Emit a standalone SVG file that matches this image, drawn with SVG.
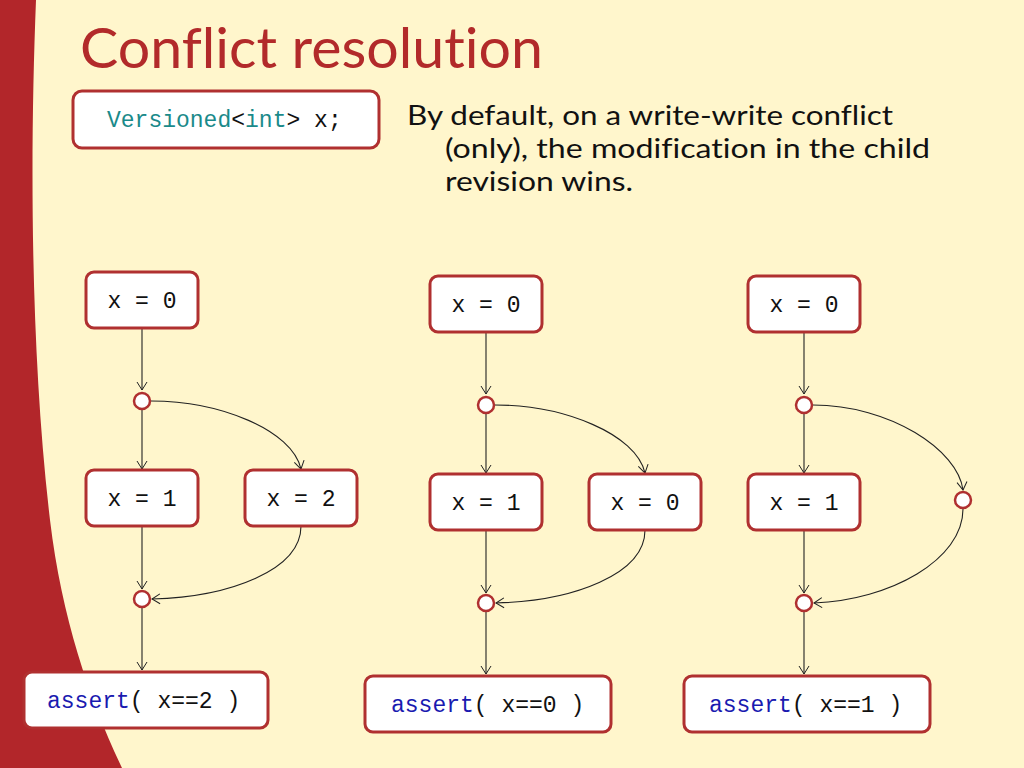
<svg xmlns="http://www.w3.org/2000/svg" width="1024" height="768" viewBox="0 0 1024 768">
<defs>
<marker id="arr" markerWidth="10" markerHeight="12" refX="9" refY="6" orient="auto" markerUnits="userSpaceOnUse">
<path d="M1,1 L9,6 L1,11" fill="none" stroke="#222" stroke-width="1"/>
</marker>
<style>
.box{fill:#fff;stroke:#b03030;stroke-width:3}
.dot{fill:#fff;stroke:#b03030;stroke-width:2.5}
.code{font-family:"Liberation Mono","DejaVu Sans Mono",monospace;font-size:23px;fill:#111}
.kw{fill:#1a8a8a}
.as{fill:#1a1ab0}
.edge{fill:none;stroke:#222;stroke-width:1.1;marker-end:url(#arr)}
.body{font-family:Lato,"Open Sans",sans-serif;font-size:27px;fill:#111;font-variant-ligatures:none}
</style>
</defs>
<rect width="1024" height="768" fill="#fff6cc"/>
<path d="M0,0 L36,0 C30,150 30,350 50,520 C62,620 90,700 122,768 L0,768 Z" fill="#b2262a"/>
<text x="80" y="68" font-family="Lato,'Open Sans',sans-serif" font-size="56" fill="#b22a2a" style="font-variant-ligatures:none" textLength="463" lengthAdjust="spacingAndGlyphs">Conflict resolution</text>
<g id="decl">
<rect class="box" x="73" y="91" width="306" height="57" rx="9"/>
<text class="code" x="107" y="127"><tspan class="kw">Versioned</tspan>&lt;<tspan class="kw">int</tspan>&gt; x;</text>
</g>
<g id="desc" class="body">
<text x="407" y="125" textLength="486" lengthAdjust="spacingAndGlyphs">By default, on a write-write conflict</text>
<text x="445" y="158" textLength="485" lengthAdjust="spacingAndGlyphs">(only), the modification in the child</text>
<text x="445" y="191" textLength="188" lengthAdjust="spacingAndGlyphs">revision wins.</text>
</g>
<g id="connectors">
<path class="edge" d="M142,328 L142,390"/>
<path class="edge" d="M142,410 L142,469"/>
<path class="edge" d="M151,401 C220,401 292,430 301,469"/>
<path class="edge" d="M142,526 L142,589"/>
<path class="edge" d="M301,526 C301,570 230,597 152,599"/>
<path class="edge" d="M142,608 L142,670"/>
<path class="edge" d="M486,332 L486,394"/>
<path class="edge" d="M486,414 L486,473"/>
<path class="edge" d="M495,405 C564,405 636,434 645,473"/>
<path class="edge" d="M486,530 L486,593"/>
<path class="edge" d="M645,530 C645,574 574,601 496,603"/>
<path class="edge" d="M486,612 L486,674"/>
<path class="edge" d="M804,332 L804,394"/>
<path class="edge" d="M804,414 L804,473"/>
<path class="edge" d="M813,405 C890,405 958,450 963,490"/>
<path class="edge" d="M804,530 L804,593"/>
<path class="edge" d="M963,509 C963,560 890,600 814,603"/>
<path class="edge" d="M804,612 L804,674"/>
</g>
<g id="c1_x0"><rect class="box" x="86" y="272" width="112" height="56" rx="8"/><text class="code" x="142" y="308" text-anchor="middle">x = 0</text></g>
<g id="c1_j1"><circle class="dot" cx="142" cy="401" r="8"/></g>
<g id="c1_x1"><rect class="box" x="86" y="470" width="112" height="56" rx="8"/><text class="code" x="142" y="506" text-anchor="middle">x = 1</text></g>
<g id="c1_x2"><rect class="box" x="245" y="470" width="112" height="56" rx="8"/><text class="code" x="301" y="506" text-anchor="middle">x = 2</text></g>
<g id="c1_j2"><circle class="dot" cx="142" cy="599" r="8"/></g>
<g id="c1_assert"><rect class="box" x="24" y="672" width="244" height="56" rx="8"/><text class="code" x="47" y="708"><tspan class="as">assert</tspan>( x==2 )</text></g>
<g id="c2_x0"><rect class="box" x="430" y="276" width="112" height="56" rx="8"/><text class="code" x="486" y="312" text-anchor="middle">x = 0</text></g>
<g id="c2_j1"><circle class="dot" cx="486" cy="405" r="8"/></g>
<g id="c2_x1"><rect class="box" x="430" y="474" width="112" height="56" rx="8"/><text class="code" x="486" y="510" text-anchor="middle">x = 1</text></g>
<g id="c2_x0b"><rect class="box" x="589" y="474" width="112" height="56" rx="8"/><text class="code" x="645" y="510" text-anchor="middle">x = 0</text></g>
<g id="c2_j2"><circle class="dot" cx="486" cy="603" r="8"/></g>
<g id="c2_assert"><rect class="box" x="365" y="676" width="246" height="56" rx="8"/><text class="code" x="391" y="712"><tspan class="as">assert</tspan>( x==0 )</text></g>
<g id="c3_x0"><rect class="box" x="748" y="276" width="112" height="56" rx="8"/><text class="code" x="804" y="312" text-anchor="middle">x = 0</text></g>
<g id="c3_j1"><circle class="dot" cx="804" cy="405" r="8"/></g>
<g id="c3_x1"><rect class="box" x="748" y="474" width="112" height="56" rx="8"/><text class="code" x="804" y="510" text-anchor="middle">x = 1</text></g>
<g id="c3_jr"><circle class="dot" cx="963" cy="500" r="8"/></g>
<g id="c3_j2"><circle class="dot" cx="804" cy="603" r="8"/></g>
<g id="c3_assert"><rect class="box" x="684" y="676" width="246" height="56" rx="8"/><text class="code" x="709" y="712"><tspan class="as">assert</tspan>( x==1 )</text></g>
</svg>
